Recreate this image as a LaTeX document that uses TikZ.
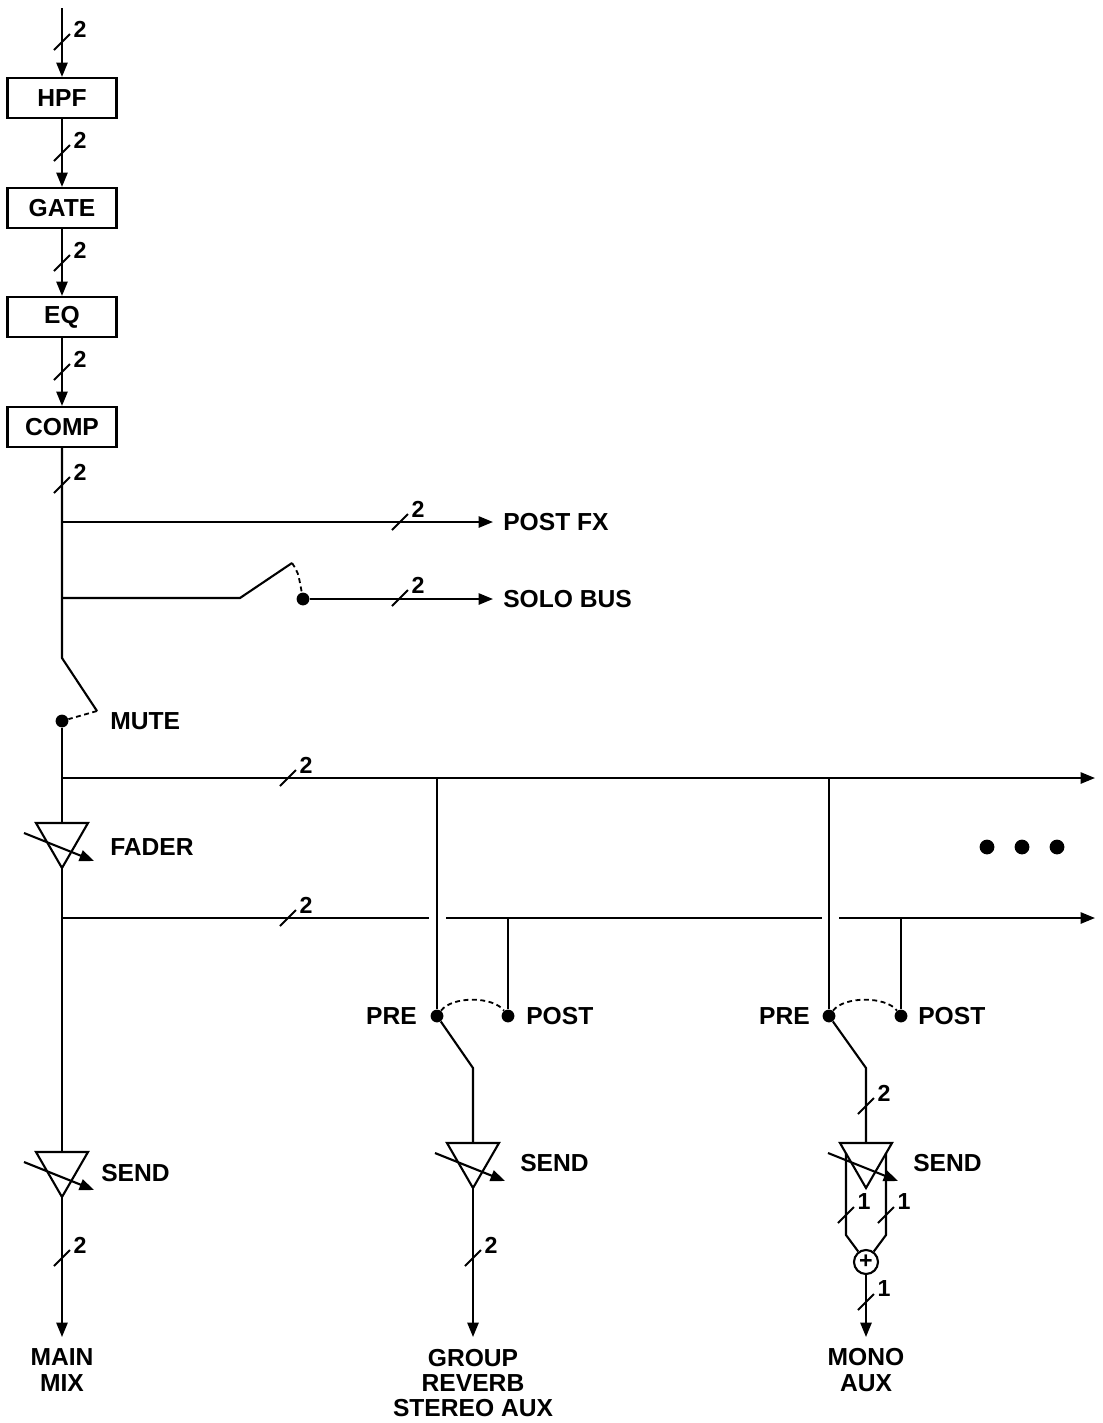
\documentclass[tikz,border=0pt]{standalone}
\usepackage{fontspec}
\setmainfont{Liberation Sans}
\usetikzlibrary{calc,arrows.meta}

\newcommand{\lblfont}{\fontsize{17.5}{18}\selectfont\bfseries}
\newcommand{\numfont}{\fontsize{16.5}{16.5}\selectfont\bfseries}

\begin{document}
\begin{tikzpicture}[x=0.025cm,y=-0.025cm,
	sig/.style={line width=1.5pt},
	arr/.style={-{Triangle[length=3.6mm,width=2.8mm]}},
	dsh/.style={line width=1.3pt,dash pattern=on 3.5pt off 2.5pt},
	blk/.style={draw,line width=1.5pt,minimum width=2.725cm,minimum height=1cm,inner sep=0pt,font=\lblfont},
	lbl/.style={inner sep=0pt,font=\lblfont},
	num/.style={inner sep=0pt,font=\numfont},
	dot/.style={circle,fill,inner sep=0pt,minimum size=0.32cm},
	sumnode/.style={circle,draw,line width=1.5pt,inner sep=0pt,minimum size=0.6cm,font=\numfont}]
	\useasboundingbox (0,0) rectangle (1103,1423);

	%blocks
	\coordinate (in) at (62,8);
	\node[blk] (hpf)  at (62,98)  {HPF};
	\node[blk] (gate) at (62,208) {GATE};
	\node[blk] (eq)   at (62,317) {EQ};
	\node[blk] (comp) at (62,427) {COMP};
	\draw[sig,arr] (in)   -- (hpf);
	\draw[sig,arr] (hpf)  -- (gate);
	\draw[sig,arr] (gate) -- (eq);
	\draw[sig,arr] (eq)   -- (comp);

	%post fx and solo
	\coordinate (tfx)   at (62,522);
	\coordinate (fxend) at (493,522);
	\coordinate (tsolo) at (62,598);
	\coordinate (swa)   at (240,598);
	\coordinate (swb)   at (292,563);
	\node[dot] (solodot) at (303,599) {};
	\coordinate (soloend) at (493,599);
	\draw[sig,arr] (tfx) -- (fxend);
	\draw[sig] (tsolo) -- (swa) -- (swb);
	\draw[dsh] (swb) .. controls (298,572) .. (solodot);
	\draw[sig,arr] (solodot) -- (soloend);
	\node[lbl,anchor=west] (lfx)   at (503,522) {POST FX};
	\node[lbl,anchor=west] (lsolo) at (503,599) {SOLO BUS};

	%mute
	\coordinate (mbend)  at (62,658);
	\coordinate (mlever) at (97,711);
	\node[dot] (mutedot) at (62,721) {};
	\draw[sig] (comp) -- (mbend) -- (mlever);
	\draw[dsh] (mlever) -- (mutedot);
	\node[lbl,anchor=west] (lmute) at (110,721) {MUTE};

	%triangles (fader and sends)
	\foreach \x/\y in {62/823,62/1152,473/1143,866/1143}{
		\draw[sig] (\x-26,\y) -- (\x+26,\y) -- (\x,\y+45) -- cycle;
		\draw[sig,arr] (\x-38,\y+10) -- (\x+32,\y+38);
	}
	\coordinate (fadtop)  at (62,823);
	\coordinate (fadbot)  at (62,868);
	\coordinate (snd1top) at (62,1152);
	\coordinate (snd1bot) at (62,1197);
	\coordinate (snd2top) at (473,1143);
	\coordinate (snd2bot) at (473,1188);
	\coordinate (snd3top) at (866,1143);
	\coordinate (snd3bot) at (866,1188);
	\node[lbl,anchor=west] (lfader) at (110,847)  {FADER};
	\node[lbl,anchor=west] (lsnd1)  at (101,1173) {SEND};
	\node[lbl,anchor=west] (lsnd2)  at (520,1163) {SEND};
	\node[lbl,anchor=west] (lsnd3)  at (913,1163) {SEND};

	%buses
	\coordinate (tA)   at (62,778);
	\coordinate (endA) at (1095,778);
	\coordinate (tB)   at (62,918);
	\coordinate (gB1)  at (429,918);
	\coordinate (gB2)  at (446,918);
	\coordinate (gB3)  at (822,918);
	\coordinate (gB4)  at (839,918);
	\coordinate (endB) at (1095,918);
	\draw[sig] (mutedot) -- (fadtop);
	\draw[sig] (fadbot) -- (snd1top);
	\draw[sig,arr] (tA) -- (endA);
	\draw[sig] (tB) -- (gB1);
	\draw[sig] (gB2) -- (gB3);
	\draw[sig,arr] (gB4) -- (endB);
	\foreach \x [count=\i] in {987,1022,1057}
		\node[dot,minimum size=0.37cm] (more\i) at (\x,847) {};

	%pre/post switches
	\node[dot] (pre1)  at (437,1016) {};
	\node[dot] (post1) at (508,1016) {};
	\node[dot] (pre2)  at (829,1016) {};
	\node[dot] (post2) at (901,1016) {};
	\coordinate (jA1) at (437,778);
	\coordinate (jB1) at (508,918);
	\coordinate (jA2) at (829,778);
	\coordinate (jB2) at (901,918);
	\coordinate (sw1) at (473,1068);
	\coordinate (sw2) at (866,1068);
	\draw[sig] (jA1) -- (pre1);
	\draw[sig] (jB1) -- (post1);
	\draw[sig] (jA2) -- (pre2);
	\draw[sig] (jB2) -- (post2);
	\draw[dsh] (pre1) .. controls (452,996) and (493,996) .. (post1);
	\draw[dsh] (pre2) .. controls (844,996) and (886,996) .. (post2);
	\draw[sig] (pre1) -- (sw1) -- (snd2top);
	\draw[sig] (pre2) -- (sw2) -- (snd3top);
	\node[lbl,anchor=east] (lpre1)  at (417,1016) {PRE};
	\node[lbl,anchor=west] (lpost1) at (526,1016) {POST};
	\node[lbl,anchor=east] (lpre2)  at (810,1016) {PRE};
	\node[lbl,anchor=west] (lpost2) at (918,1016) {POST};

	%mono sum
	\coordinate (legL)  at (846,1153);
	\coordinate (legR)  at (886,1153);
	\coordinate (legLb) at (846,1235);
	\coordinate (legRb) at (886,1235);
	\node[sumnode] (sum) at (866,1262) {+};
	\draw[sig] (legL) -- (legLb) -- (sum);
	\draw[sig] (legR) -- (legRb) -- (sum);

	%outputs
	\coordinate (mainend) at (62,1337);
	\coordinate (grpend)  at (473,1337);
	\coordinate (monoend) at (866,1337);
	\draw[sig,arr] (snd1bot) -- (mainend);
	\draw[sig,arr] (snd2bot) -- (grpend);
	\draw[sig,arr] (sum) -- (monoend);
	\node[lbl,align=center] (lmain) at (62,1370)  {MAIN\\MIX};
	\node[lbl,align=center] (lgrp)  at (473,1383) {GROUP\\REVERB\\STEREO AUX};
	\node[lbl,align=center] (lmono) at (866,1370) {MONO\\AUX};

	%channel marks
	\foreach \x/\y/\n [count=\i] in {62/42/2,62/153/2,62/263/2,62/372/2,62/485/2,400/522/2,400/598/2,288/778/2,288/918/2,62/1258/2,473/1258/2,866/1106/2,846/1215/1,886/1215/1,866/1302/1}{
		\draw[line width=1.3pt] (\x-8,\y+8) -- (\x+8,\y-8);
		\node[num] (ch\i) at (\x+18,\y-13) {\n};
	}
\end{tikzpicture}
\end{document}
